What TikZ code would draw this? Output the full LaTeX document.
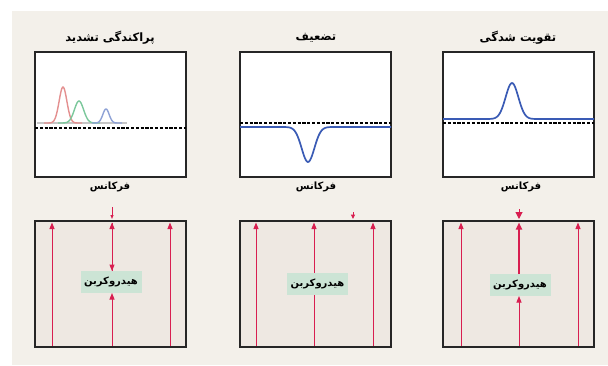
\documentclass[tikz,border=0pt]{standalone}
\usepackage{fontspec}
\TeXXeTstate=1
\newfontfamily\fa[Script=Arabic]{DejaVu Sans}
\usetikzlibrary{arrows.meta}
\definecolor{bgc}{HTML}{F3F0EA}
\definecolor{panfill}{HTML}{EEE8E2}
\definecolor{arr}{HTML}{D81E50}
\definecolor{boxg}{HTML}{CCE4D5}
\definecolor{curveblue}{HTML}{3A5BB5}
\definecolor{pkred}{HTML}{E49090}
\definecolor{pkgreen}{HTML}{7CC89C}
\definecolor{pkblue}{HTML}{8EA2D6}
\tikzset{
  toppanel/.style={draw=black!85, line width=1.2pt, fill=white, minimum width=151pt, minimum height=125pt, inner sep=0pt, outer sep=0pt},
  botpanel/.style={draw=black!85, line width=1.2pt, fill=panfill, minimum width=151pt, minimum height=126pt, inner sep=0pt, outer sep=0pt},
  title/.style={font=\fa\bfseries\fontsize{11.5}{13}\selectfont, inner sep=0pt},
  axislabel/.style={font=\fa\bfseries\fontsize{10}{12}\selectfont, inner sep=0pt},
  hcbox/.style={fill=boxg, font=\fa\bfseries\fontsize{10}{12}\selectfont, minimum width=61pt, minimum height=22pt, inner sep=0pt, outer sep=0pt},
  redarrow/.style={draw=arr, line width=1pt, -{Triangle[length=6.5pt,width=5pt]}},
  redline/.style={draw=arr, line width=1pt},
  dashline/.style={draw=black, line width=1.2pt, dash pattern=on 3.2pt off 1.6pt},
  bluecurve/.style={draw=curveblue, line width=1.7pt},
}
\begin{document}
\begin{tikzpicture}[x=1pt,y=-1pt]
\useasboundingbox (0,0) rectangle (608,365);
\fill[white] (0,0) rectangle (608,365);
\fill[bgc] (12,11) rectangle (608,365);

% ---------- top panels ----------
\node[toppanel] (t1) at (110.5,114.5) {};
\node[toppanel] (t2) at (315.5,114.5) {};
\node[toppanel] (t3) at (518.5,114.5) {};

\node[title] (ti1) at (110,38) {\beginR پراکندگی تشدید\endR};
\node[title] (ti2) at (316,38) {\beginR تضعیف\endR};
\node[title] (ti3) at (518,38) {\beginR تقویت شدگی\endR};

\node[axislabel] (f1) at (110,187) {\beginR فرکانس\endR};
\node[axislabel] (f2) at (316,187) {\beginR فرکانس\endR};
\node[axislabel] (f3) at (521,187) {\beginR فرکانس\endR};

% panel 1: scattered peaks
\draw[black!22, line width=1.4pt] (37,123) -- (127,123);
\draw[pkred, line width=1.4pt] plot[domain=44:82, samples=60] (\x,{123-36*exp(-((\x-63)/5.5)^2)});
\draw[pkgreen, line width=1.4pt] plot[domain=58:100, samples=60] (\x,{123-22*exp(-((\x-79)/6.5)^2)});
\draw[pkblue, line width=1.4pt] plot[domain=92:122, samples=60] (\x,{123-14*exp(-((\x-106)/4.5)^2)});
\draw[dashline] (t1.west |- 0,128) -- (t1.east |- 0,128);

% panel 2: attenuation
\draw[dashline] (t2.west |- 0,123) -- (t2.east |- 0,123);
\draw[bluecurve] plot[domain=240:391, samples=150] (\x,{127+35*exp(-((\x-308)/9)^2)});

% panel 3: amplification
\draw[bluecurve] plot[domain=443:594, samples=150] (\x,{119-36*exp(-((\x-512)/9)^2)});
\draw[dashline] (t3.west |- 0,123) -- (t3.east |- 0,123);

% ---------- bottom panels ----------
\node[botpanel] (b1) at (110.5,284) {};
\node[botpanel] (b2) at (315.5,284) {};
\node[botpanel] (b3) at (518.5,284) {};

\node[hcbox] (h1) at (111,282) {\beginR هیدروکربن\endR};
\node[hcbox] (h3) at (520,285) {\beginR هیدروکربن\endR};

% panel 1 arrows
\coordinate (a1b) at (52,347);   \coordinate (a1t) at (52,222.5);
\coordinate (c1b) at (170,347);  \coordinate (c1t) at (170,222.5);
\coordinate (m1b) at (112,347);  \coordinate (m1t) at (112,222.5);
\coordinate (m1s) at (112,207);  \coordinate (m1e) at (112,219);
\draw[redarrow] (a1b) -- (a1t);
\draw[redarrow] (c1b) -- (c1t);
\draw[redarrow] (m1b) -- (h1.south -| m1b);
\draw[redarrow] (h1.north -| m1b) -- (m1t);
\draw[redarrow] (m1t) -- (h1.north -| m1b);
\draw[redline, -{Triangle[length=4pt,width=3pt]}] (m1s) -- (m1e);

% panel 2 arrows
\coordinate (a2b) at (256,347);  \coordinate (a2t) at (256,222.5);
\coordinate (c2b) at (373,347);  \coordinate (c2t) at (373,222.5);
\coordinate (m2b) at (314,347);  \coordinate (m2t) at (314,222.5);
\coordinate (k2s) at (353,212);  \coordinate (k2e) at (353,219);
\draw[redarrow] (a2b) -- (a2t);
\draw[redarrow] (c2b) -- (c2t);
\draw[redarrow] (m2b) -- (m2t);
\node[hcbox] (h2) at (317.5,283.5) {\beginR هیدروکربن\endR};
\draw[redline, -{Triangle[length=4.5pt,width=4pt]}] (k2s) -- (k2e);

% panel 3 arrows
\coordinate (a3b) at (461,347);  \coordinate (a3t) at (461,222.5);
\coordinate (c3b) at (578,347);  \coordinate (c3t) at (578,222.5);
\coordinate (m3b) at (519,347);  \coordinate (m3t) at (519,222.5);
\coordinate (k3s) at (519,209);  \coordinate (k3e) at (519,219);
\draw[redarrow] (a3b) -- (a3t);
\draw[redarrow] (c3b) -- (c3t);
\draw[redarrow] (m3b) -- (h3.south -| m3b);
\draw[draw=arr, line width=1.8pt, -{Triangle[length=7pt,width=6pt]}] (h3.north -| m3b) -- (m3t);
\draw[redline, -{Triangle[length=7pt,width=7pt]}] (k3s) -- (k3e);

% redraw panel borders on top of arrows
\draw[black!85, line width=1.2pt] (b1.south west) rectangle (b1.north east);
\draw[black!85, line width=1.2pt] (b2.south west) rectangle (b2.north east);
\draw[black!85, line width=1.2pt] (b3.south west) rectangle (b3.north east);
\end{tikzpicture}
\end{document}
